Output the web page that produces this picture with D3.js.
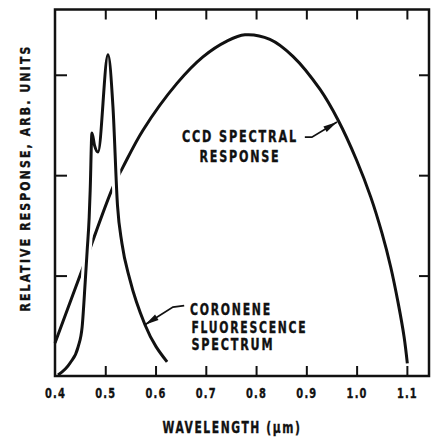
<!DOCTYPE html>
<html>
<head>
<meta charset="utf-8">
<script src="https://cdn.jsdelivr.net/npm/d3@7"></script>
<style>
  body { margin: 0; background: #fff; }
  text { font-family: "DejaVu Sans Condensed", "DejaVu Sans", sans-serif; font-weight: bold; fill: #111; stroke: #111; stroke-width: 0.35px; }
</style>
</head>
<body>
<svg id="chart"></svg>
<script>
var width = 431;
var height = 446;
var margin = {left: 55, right: 2, top: 9.5, bottom: 70};

// CCD spectral response, wavelength (um) vs relative response
var ccdX = [0.400, 0.4597, 0.5153, 0.5352, 0.5750, 0.6426, 0.6943, 0.7420, 0.7778, 0.8275, 0.8733, 0.9270, 0.9633, 1.0000, 1.0280, 1.0506, 1.0677, 1.0828, 1.0944, 1.1009];
var ccdY = [0.328, 1.134, 1.881, 2.080, 2.448, 2.914, 3.178, 3.335, 3.398, 3.353, 3.184, 2.856, 2.547, 2.149, 1.784, 1.420, 1.088, 0.723, 0.391, 0.126];

// coronene fluorescence spectrum
var fluoX = [0.406, 0.430, 0.446, 0.454, 0.460, 0.464, 0.468, 0.470, 0.4735, 0.4785, 0.4855, 0.5054, 0.5153, 0.5243, 0.5332, 0.549, 0.579, 0.623];
var fluoY = [0.01, 0.13, 0.29, 0.49, 0.93, 1.25, 1.58, 1.85, 2.42, 2.30, 2.23, 3.20, 2.68, 1.70, 1.32, 0.96, 0.51, 0.14];

var xTicks = [0.4, 0.5, 0.6, 0.7, 0.8, 0.9, 1.0, 1.1];
var yTicks = [1, 2, 3];

var ccdLabel = ["CCD SPECTRAL", "RESPONSE"];
var fluoLabel = ["CORONENE", "FLUORESCENCE", "SPECTRUM"];

var ccd = ccdX.map((x, i) => ({x: x, y: ccdY[i]}));
var fluo = fluoX.map((x, i) => ({x: x, y: fluoY[i]}));

var xScale = d3.scaleLinear()
                .domain([0.4, 1.144])
                .range([margin.left, width - margin.right]);
var yScale = d3.scaleLinear()
                .domain([0, 3.65])
                .range([height - margin.bottom, margin.top]);

var svg = d3.select("#chart")
    .attr("width", width)
    .attr("height", height);

var ccdLine = d3.line()
    .x(d => xScale(d.x))
    .y(d => yScale(d.y))
    .curve(d3.curveCatmullRom.alpha(0.5));
var fluoLine = d3.line()
    .x(d => xScale(d.x))
    .y(d => yScale(d.y))
    .curve(d3.curveMonotoneX);

// ccd first, then fluorescence with a white halo so ccd is broken where they cross
svg.append("path")
    .attr("d", ccdLine(ccd))
    .attr("fill", "none")
    .attr("stroke", "#111")
    .attr("stroke-width", 3);
svg.append("path")
    .attr("d", fluoLine(fluo))
    .attr("fill", "none")
    .attr("stroke", "#fff")
    .attr("stroke-width", 9);
svg.append("path")
    .attr("d", fluoLine(fluo))
    .attr("fill", "none")
    .attr("stroke", "#111")
    .attr("stroke-width", 3);

// frame
var x0 = xScale.range()[0], x1 = xScale.range()[1];
var y0 = yScale.range()[0], y1 = yScale.range()[1];
svg.append("rect")
    .attr("x", x0).attr("y", y1)
    .attr("width", x1 - x0).attr("height", y0 - y1)
    .attr("fill", "none")
    .attr("stroke", "#111")
    .attr("stroke-width", 2.5);

function styleAxis(g) {
    g.select(".domain").remove();
    g.selectAll(".tick line").attr("stroke", "#111").attr("stroke-width", 2);
    g.attr("font-family", null).attr("font-size", null);
}

var xAxis = svg.append("g")
    .attr("transform", `translate(0, ${y0})`)
    .call(d3.axisBottom(xScale).tickValues(xTicks).tickSize(-10).tickPadding(12).tickFormat(d3.format(".1f")))
    .call(styleAxis);
xAxis.selectAll("text")
    .attr("font-size", 14)
    .attr("letter-spacing", 1.5)
    .attr("textLength", 21)
    .attr("lengthAdjust", "spacingAndGlyphs")
    .attr("fill", "#111");
xAxis.selectAll(".tick").filter(d => d === 0.4).select("line").remove();

svg.append("g")
    .attr("transform", `translate(0, ${y1})`)
    .call(d3.axisTop(xScale).tickValues(xTicks.slice(1)).tickSize(-10).tickFormat(""))
    .call(styleAxis);
svg.append("g")
    .attr("transform", `translate(${x0}, 0)`)
    .call(d3.axisLeft(yScale).tickValues(yTicks).tickSize(-12).tickFormat(""))
    .call(styleAxis);
svg.append("g")
    .attr("transform", `translate(${x1}, 0)`)
    .call(d3.axisRight(yScale).tickValues(yTicks).tickSize(-10).tickFormat(""))
    .call(styleAxis);

// axis titles
svg.append("text")
    .attr("x", 232)
    .attr("y", 433)
    .attr("text-anchor", "middle")
    .attr("font-size", 15)
    .attr("letter-spacing", 2)
    .attr("textLength", 139)
    .attr("lengthAdjust", "spacingAndGlyphs")
    .text("WAVELENGTH (\u03bcm)");

svg.append("text")
    .attr("transform", "rotate(-90)")
    .attr("x", -178)
    .attr("y", 30)
    .attr("text-anchor", "middle")
    .attr("font-size", 14)
    .attr("letter-spacing", 2.5)
    .attr("textLength", 267)
    .attr("lengthAdjust", "spacingAndGlyphs")
    .text("RELATIVE RESPONSE, ARB. UNITS");

// annotation arrows
function arrow(pts) {
    var p = pts.map(d => [xScale(d[0]), yScale(d[1])]);
    svg.append("path")
        .attr("d", d3.line()(p))
        .attr("fill", "none")
        .attr("stroke", "#111")
        .attr("stroke-width", 1.8);
    var a = p[p.length - 2], b = p[p.length - 1];
    var dx = b[0] - a[0], dy = b[1] - a[1];
    var len = Math.sqrt(dx * dx + dy * dy);
    var ux = dx / len, uy = dy / len;
    var L = 14, w = 3.2;
    var bx = b[0] - ux * L, by = b[1] - uy * L;
    svg.append("path")
        .attr("d", `M${b[0]},${b[1]}L${bx - uy * w},${by + ux * w}L${bx + uy * w},${by - ux * w}Z`)
        .attr("fill", "#111");
}

arrow([[0.897, 2.378], [0.911, 2.378], [0.961, 2.53]]);
arrow([[0.657, 0.70], [0.6346, 0.687], [0.579, 0.51]]);

var ccdWidths = [116, 81];
svg.append("g").selectAll("text")
    .data(ccdLabel)
    .enter()
    .append("text")
    .attr("x", xScale(0.768))
    .attr("y", (d, i) => yScale(2.328) + i * 20)
    .attr("text-anchor", "middle")
    .attr("font-size", 15)
    .attr("letter-spacing", 2.2)
    .attr("textLength", (d, i) => ccdWidths[i])
    .attr("lengthAdjust", "spacingAndGlyphs")
    .text(d => d);

var fluoWidths = [82, 116, 83];
svg.append("g").selectAll("text")
    .data(fluoLabel)
    .enter()
    .append("text")
    .attr("x", (d, i) => xScale(0.6684) + (i ? 1.5 : 0))
    .attr("y", (d, i) => yScale(0.607) + i * 17.5)
    .attr("font-size", 15)
    .attr("letter-spacing", 2.2)
    .attr("textLength", (d, i) => fluoWidths[i])
    .attr("lengthAdjust", "spacingAndGlyphs")
    .text(d => d);
</script>
</body>
</html>
